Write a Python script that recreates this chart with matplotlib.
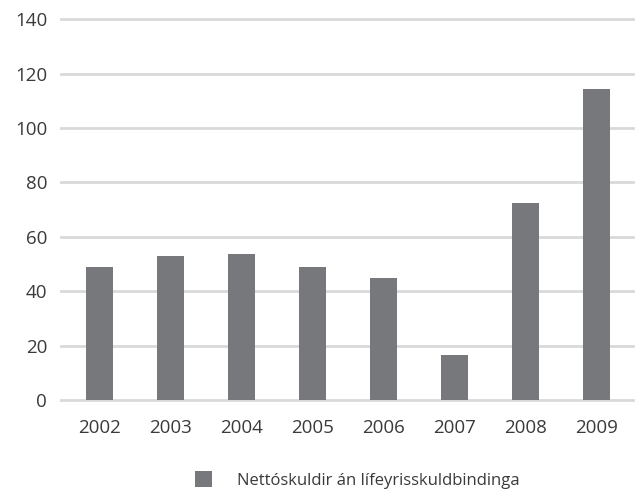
import numpy as np
import matplotlib.pyplot as plt
from matplotlib.patches import Patch

years = ['2002', '2003', '2004', '2005', '2006', '2007', '2008', '2009']
netto = [48.9, 52.9, 53.6, 48.9, 44.8, 16.5, 72.4, 114.3]
y_ticks = [0, 20, 40, 60, 80, 100, 120, 140]
label = 'Nettóskuldir án lífeyrisskuldbindinga'

plt.rcParams['font.family'] = ['Open Sans', 'DejaVu Sans']
txt = '#3a3a3a'
bar_col = '#77787b'

fig = plt.figure(figsize=(6.38, 4.92), dpi=100)
ax = fig.add_axes([0.0956, 0.187, 0.896, 0.774])

x = np.arange(len(years))
ax.bar(x, netto, width=0.38, color=bar_col, zorder=3)

ax.set_ylim(0, 140)
ax.set_xlim(-0.54, 7.51)
ax.set_yticks(y_ticks)
ax.set_xticks(x)
ax.set_xticklabels(years)
for v in y_ticks:
    ax.axhline(v, color='#d9d9d9', lw=2, zorder=1, clip_on=False)

for s in ax.spines.values():
    s.set_visible(False)
ax.tick_params(axis='both', length=0, labelsize=13.5, colors=txt)
ax.tick_params(axis='y', pad=10)
ax.tick_params(axis='x', pad=14)

h = Patch(facecolor=bar_col, edgecolor='none')
fig.legend([h], [label], loc='center', bbox_to_anchor=(0.56, 0.024),
           frameon=False, fontsize=12, labelcolor=txt, handlelength=1.05,
           handleheight=1.05, handletextpad=1.5)

fig.savefig('out.png', dpi=100)
